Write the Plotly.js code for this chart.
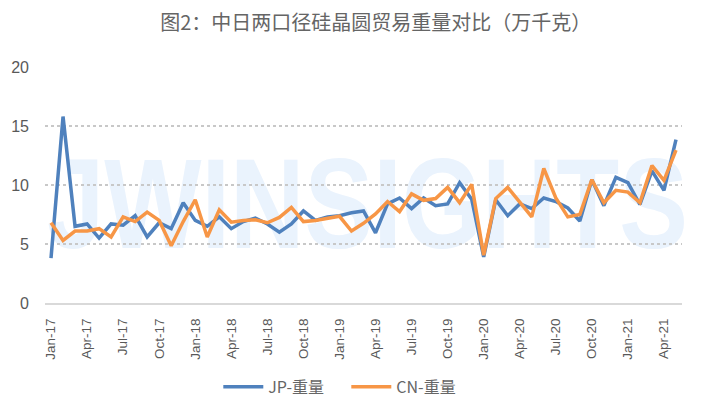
<!DOCTYPE html>
<html>
<head>
<meta charset="utf-8">
<script src="https://cdn.plot.ly/plotly-3.0.1.min.js"></script>
<style>
html,body{margin:0;padding:0;background:#fff;}
#wrap{position:relative;width:709px;height:414px;overflow:hidden;}
#wm{position:absolute;left:47px;top:139px;font-family:"Liberation Sans",Arial,sans-serif;font-weight:bold;font-size:103px;line-height:103px;color:#EAF3FD;white-space:nowrap;z-index:0;transform:scale(1,1.25);transform-origin:0 0;}
#chart{position:absolute;left:0;top:0;width:709px;height:414px;z-index:1;}
</style>
</head>
<body>
<div id="wrap">
<div id="wm">JWINSIGHTS</div>
<div id="chart"></div>
</div>
<script>
const months = [
 "Jan-17","Feb-17","Mar-17","Apr-17","May-17","Jun-17","Jul-17","Aug-17","Sep-17","Oct-17","Nov-17","Dec-17",
 "Jan-18","Feb-18","Mar-18","Apr-18","May-18","Jun-18","Jul-18","Aug-18","Sep-18","Oct-18","Nov-18","Dec-18",
 "Jan-19","Feb-19","Mar-19","Apr-19","May-19","Jun-19","Jul-19","Aug-19","Sep-19","Oct-19","Nov-19","Dec-19",
 "Jan-20","Feb-20","Mar-20","Apr-20","May-20","Jun-20","Jul-20","Aug-20","Sep-20","Oct-20","Nov-20","Dec-20",
 "Jan-21","Feb-21","Mar-21","Apr-21","May-21"
];
const tickLabels = ["Jan-17","Apr-17","Jul-17","Oct-17","Jan-18","Apr-18","Jul-18","Oct-18","Jan-19","Apr-19","Jul-19","Oct-19","Jan-20","Apr-20","Jul-20","Oct-20","Jan-21","Apr-21"];
const jpWeight = [
 3.8,15.8,6.5,6.7,5.5,6.7,6.6,7.4,5.6,6.8,6.3,8.5,
 7.0,6.5,7.3,6.3,6.9,7.2,6.7,6.0,6.7,7.8,7.0,7.3,
 7.4,7.65,7.8,5.95,8.4,8.9,8.0,8.9,8.25,8.4,10.2,8.8,
 3.9,8.75,7.4,8.4,8.0,8.9,8.6,8.05,6.95,10.45,8.25,10.65,
 10.2,8.35,11.2,9.55,13.85
];
const cnWeight = [
 6.8,5.3,6.1,6.1,6.3,5.6,7.3,6.9,7.7,7.0,4.85,6.9,
 8.75,5.6,7.9,6.85,7.0,7.05,6.8,7.25,8.1,6.9,7.0,7.15,
 7.35,6.1,6.75,7.55,8.6,7.75,9.25,8.7,8.85,9.8,8.5,10.05,
 4.05,8.85,9.8,8.55,7.3,11.4,8.9,7.3,7.5,10.45,8.5,9.55,
 9.4,8.5,11.65,10.4,12.95
];
const seriesNames = ["JP-重量","CN-重量"];

const traces = [
 {x: months, y: jpWeight, name: seriesNames[0], type: 'scatter', mode: 'lines',
  line: {color: '#4F81BD', width: 3.5}},
 {x: months, y: cnWeight, name: seriesNames[1], type: 'scatter', mode: 'lines',
  line: {color: '#F79646', width: 3.5}}
];

const layout = {
 width: 709, height: 414,
 paper_bgcolor: 'rgba(0,0,0,0)', plot_bgcolor: 'rgba(0,0,0,0)',
 margin: {l: 45, r: 27, t: 67, b: 110},
 title: {text: '图2：中日两口径硅晶圆贸易重量对比（万千克）', x: 0.53, xanchor: 'center', y: 0.945, yanchor: 'middle',
   font: {family: '"Noto Sans CJK SC", sans-serif', size: 20, color: '#656565'}},
 showlegend: true,
 legend: {orientation: 'h', x: 0.473, xanchor: 'center', y: -0.35, yanchor: 'middle',
   font: {family: '"Noto Sans CJK SC", sans-serif', size: 16, color: '#666666'},
   itemwidth: 40, entrywidth: 73, traceorder: 'normal'},
 xaxis: {type: 'category', range: [-0.5, months.length - 0.5],
   tickvals: tickLabels, ticktext: tickLabels, tickangle: -90,
   tickfont: {family: '"Liberation Sans", Arial, sans-serif', size: 13.5, color: '#595959'},
   showgrid: false, zeroline: false, showline: true, linecolor: '#D9D9D9', linewidth: 2,
   ticks: '', ticklabelstandoff: 8, fixedrange: true},
 yaxis: {range: [0, 20], tickvals: [0,5,10,15,20], ticks: '',
   tickfont: {family: '"Liberation Sans", Arial, sans-serif', size: 16, color: '#595959'},
   showgrid: true, gridcolor: '#C8C8C8', griddash: 'dot', gridwidth: 1.2,
   zeroline: false, showline: false, ticklabelstandoff: 15, fixedrange: true}
};

Plotly.newPlot('chart', traces, layout, {displayModeBar: false, staticPlot: true});
</script>
</body>
</html>
